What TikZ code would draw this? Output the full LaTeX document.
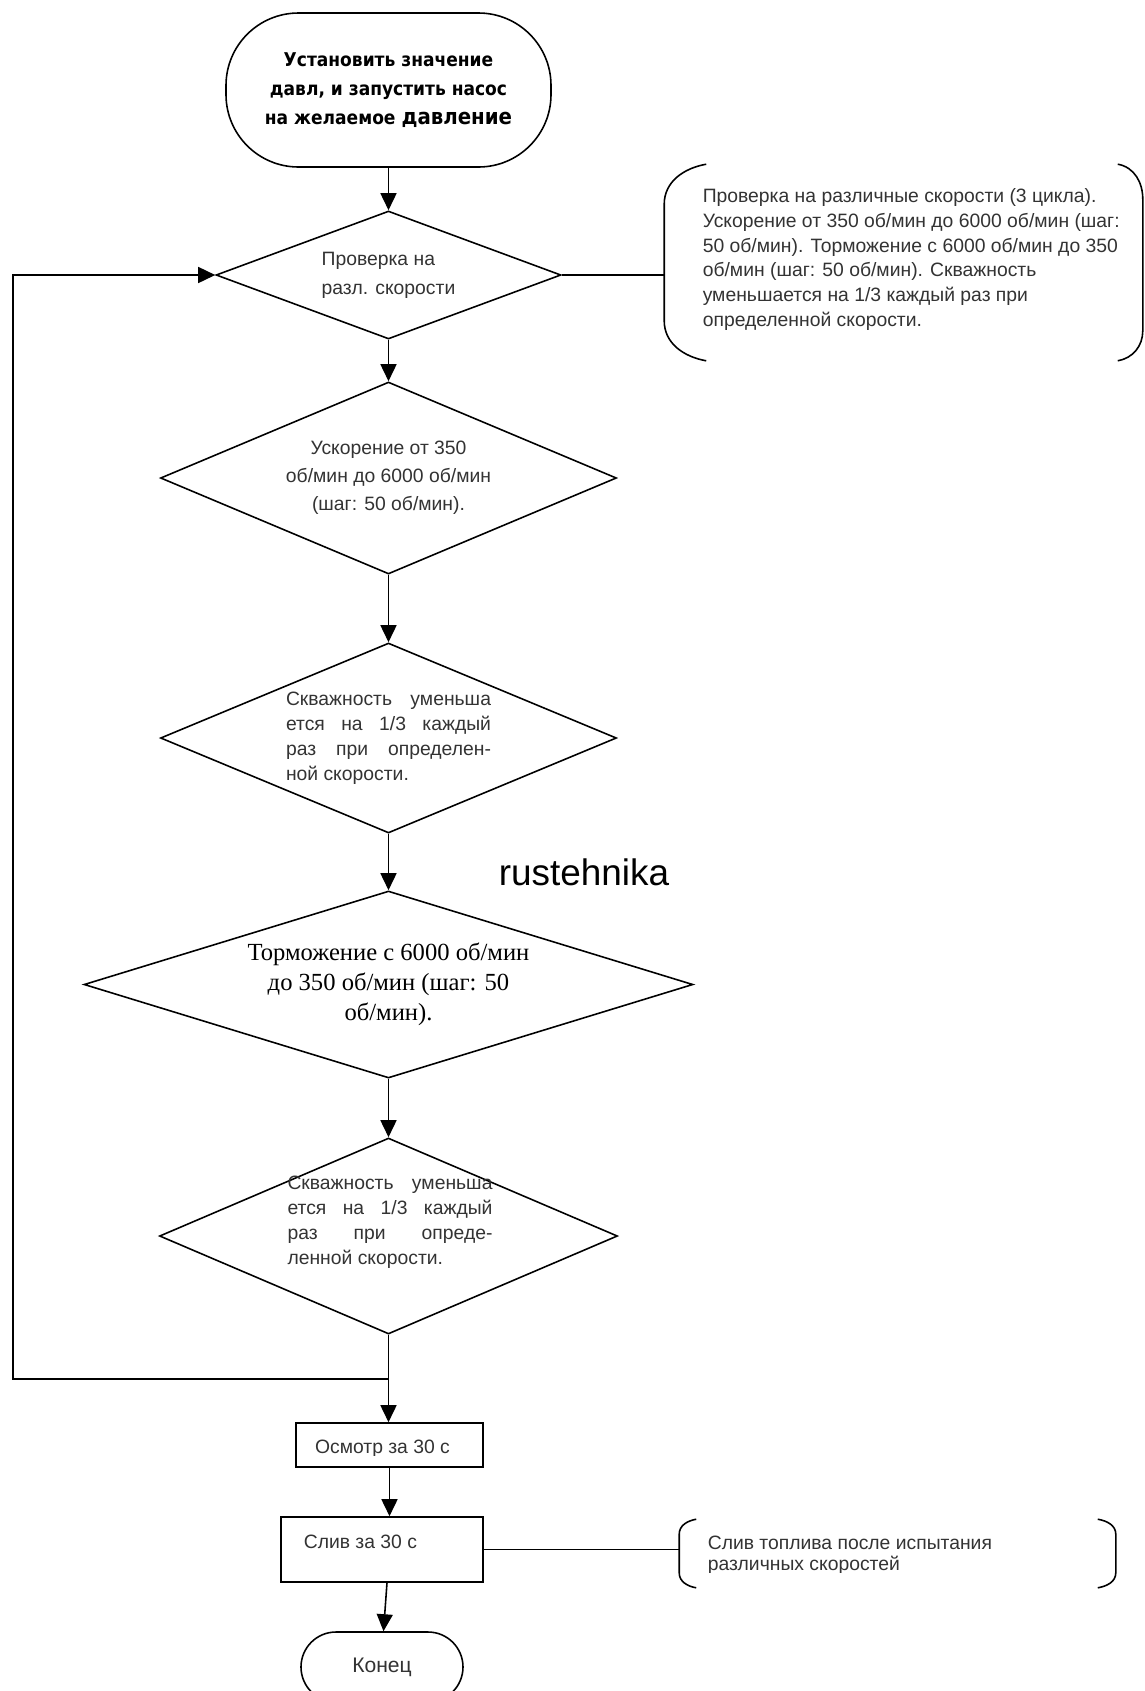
\documentclass[tikz,border=0pt]{standalone}
\usepackage{fontspec}
\setmainfont{Liberation Sans}
\newfontfamily\serfont{Liberation Serif}
\newfontfamily\termfont{DejaVu Sans Condensed}
\usetikzlibrary{shapes.geometric}
\usetikzlibrary{arrows.meta}

\begin{document}
\begin{tikzpicture}[line width=0.9pt,
  arr/.style={-{Triangle[length=0.34cm,width=0.32cm]}},
  diam/.style={diamond,draw,inner sep=0pt,text=black!80,font=\fontsize{11}{14.2}\selectfont},
  proc/.style={rectangle,draw,inner sep=0pt},
  note/.style={inner sep=0pt},
  notetxt/.style={inner sep=0pt,align=left,text=black!80,font=\fontsize{11}{14.2}\selectfont},
  boxtxt/.style={inner sep=0pt,text=black!80,font=\fontsize{11}{13}\selectfont}]
\path[use as bounding box,fill=white] (0,0) rectangle (22.9,-33.82);

\node[draw,rounded corners=1.45cm,minimum width=6.5cm,minimum height=3.08cm,align=center,
  font=\termfont\bfseries\fontsize{10.8}{16.3}\selectfont] (start) at (7.77,-1.8)
  {Установить значение\\давл, и запустить насос\\на желаемое {\fontsize{12.5}{16.3}\selectfont давление}};

\node[diam,shape aspect=2.7,minimum width=6.9cm,minimum height=2.56cm,align=left,
  font=\fontsize{11}{16.4}\selectfont] (d1) at (7.77,-5.5) {Проверка на\\разл. скорости};
\node[diam,shape aspect=2.4,minimum width=9.12cm,minimum height=3.84cm,align=center,
  font=\fontsize{11}{15.9}\selectfont] (d2) at (7.77,-9.56)
  {Ускорение от 350\\об/мин до 6000 об/мин\\(шаг: 50 об/мин).};
\node[diam,shape aspect=2.4,minimum width=9.12cm,minimum height=3.8cm,align=left] (d3) at (7.77,-14.76)
  {\makebox[4.1cm][s]{Скважность уменьша}\\\makebox[4.1cm][s]{ется на 1/3 каждый}\\
   \makebox[4.1cm][s]{раз при определен-}\\ной скорости.};
\node[diam,shape aspect=3.2,minimum width=12.18cm,minimum height=3.74cm,align=center,text=black,
  font=\serfont\fontsize{14}{17.1}\selectfont] (d4) at (7.77,-19.69)
  {Торможение с 6000 об/мин\\до 350 об/мин (шаг: 50\\об/мин).};
\node[diam,shape aspect=2.4,minimum width=9.16cm,minimum height=3.92cm] (d5) at (7.77,-24.72) {};
\node[notetxt] (d5txt) at (7.8,-24.44)
  {\makebox[4.1cm][s]{Скважность уменьша}\\\makebox[4.1cm][s]{ется на 1/3 каждый}\\
   \makebox[4.1cm][s]{раз при опреде-}\\ленной скорости.};

\node[font=\fontsize{21}{24}\selectfont,anchor=base] (mark) at (11.68,-17.7) {rustehnika};

\coordinate (J) at (7.77,-27.58);
\coordinate (loopc) at (0.26,-27.58);

\node[proc,minimum width=3.74cm,minimum height=0.88cm] (look) at (7.79,-28.9) {};
\begin{scope}
\clip (5,-28.4) rectangle (10,-29.1);
\node[boxtxt,anchor=base] (looktxt) at (7.65,-29.06) {Осмотр за 30 с};
\end{scope}
\node[proc,minimum width=4.04cm,minimum height=1.3cm] (drain) at (7.64,-30.99) {};
\node[boxtxt,anchor=base west] (draintxt) at (6.06,-30.96) {Слив за 30 с};
\node[draw,rounded corners=0.7cm,minimum width=3.24cm,minimum height=1.4cm,
  font=\fontsize{12}{14}\selectfont,text=black!80] (end) at (7.64,-33.34) {Конец};

\node[note,minimum width=9.54cm,minimum height=3.9cm] (note1) at (18.07,-5.25) {};
\draw ([xshift=0.84cm]note1.north west) to[out=190,in=90] ([yshift=-0.8cm]note1.north west)
  -- ([yshift=0.8cm]note1.south west) to[out=-90,in=170] ([xshift=0.84cm]note1.south west);
\draw ([xshift=-0.5cm]note1.north east) to[out=-10,in=90] ([yshift=-0.7cm]note1.north east)
  -- ([yshift=0.6cm]note1.south east) to[out=-90,in=10] ([xshift=-0.5cm]note1.south east);
\node[notetxt,anchor=west] (note1txt) at (14.04,-5.19)
  {Проверка на различные скорости (3 цикла).\\Ускорение от 350 об/мин до 6000 об/мин (шаг:\\
   50 об/мин). Торможение с 6000 об/мин до 350\\об/мин (шаг: 50 об/мин). Скважность\\
   уменьшается на 1/3 каждый раз при\\определенной скорости.};

\node[note,minimum width=8.7cm,minimum height=1.34cm] (note2) at (17.95,-31.07) {};
\draw ([xshift=0.34cm]note2.north west) to[out=190,in=90] ([yshift=-0.3cm]note2.north west)
  -- ([yshift=0.3cm]note2.south west) to[out=-90,in=170] ([xshift=0.34cm]note2.south west);
\draw ([xshift=-0.36cm]note2.north east) to[out=-10,in=90] ([yshift=-0.3cm]note2.north east)
  -- ([yshift=0.3cm]note2.south east) to[out=-90,in=10] ([xshift=-0.36cm]note2.south east);
\begin{scope}
\clip (13,-30.5) rectangle (22,-31.44);
\node[notetxt,anchor=west,font=\fontsize{11}{12}\selectfont] (note2txt) at (14.14,-31.11)
  {Слив топлива после испытания\\различных скоростей};
\end{scope}

\draw[arr] (start.south) -- (d1.north);
\draw[arr] (d1.south) -- (d2.north);
\draw[arr] (d2.south) -- (d3.north);
\draw[arr] (d3.south) -- (d4.north);
\draw[arr] (d4.south) -- (d5.north);
\draw (d5.south) -- (J);
\draw[arr] (J) -- (J |- look.north);
\draw[arr] (J) -- (loopc) |- (d1.west);
\draw[arr] (look.south) -- (look.south |- drain.north);
\draw[arr] ([xshift=0.1cm]drain.south) -- ([xshift=0.03cm]end.north);
\draw (d1.east) -- (d1.east -| note1.west);
\draw (drain.east) -- (drain.east -| note2.west);

\end{tikzpicture}
\end{document}
